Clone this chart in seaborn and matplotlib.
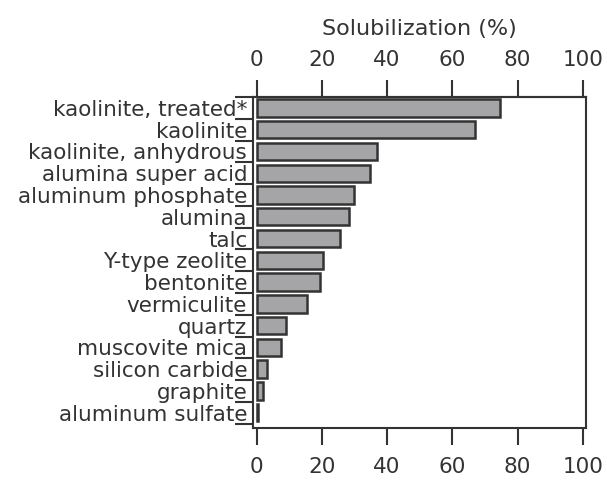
import numpy as np
import seaborn as sns
import matplotlib.pyplot as plt

# solubilization of aluminium-bearing minerals
minerals = [
    "kaolinite, treated*",
    "kaolinite",
    "kaolinite, anhydrous",
    "alumina super acid",
    "aluminum phosphate",
    "alumina",
    "talc",
    "Y-type zeolite",
    "bentonite",
    "vermiculite",
    "quartz",
    "muscovite mica",
    "silicon carbide",
    "graphite",
    "aluminum sulfate",
]
solubilization = [74.5, 67.1, 37.0, 34.8, 29.8, 28.2, 25.6, 20.4, 19.3, 15.3, 9.1, 7.6, 3.3, 1.9, 0.5]
x_ticks = [0, 20, 40, 60, 80, 100]

sns.set_style("ticks")
plt.rcParams["font.family"] = ["DejaVu Sans"]
plt.rcParams["text.color"] = "#333333"
plt.rcParams["xtick.color"] = "#333333"
plt.rcParams["ytick.color"] = "#333333"
plt.rcParams["axes.edgecolor"] = "#333333"

fig, ax = plt.subplots(figsize=(6.07, 4.8), dpi=100)
fig.subplots_adjust(left=252.7 / 607, right=585.7 / 607, top=1 - 97 / 480, bottom=1 - 428 / 480)

sns.barplot(x=solubilization, y=minerals, orient="h", color="#a5a5a8", saturation=1,
            edgecolor="#333333", linewidth=1.8, width=0.8, ax=ax)

for side in ["top", "right", "left", "bottom"]:
    ax.spines[side].set_visible(True)
    ax.spines[side].set_linewidth(1.5)

ax.set_xlim(-1.2, 100.9)
ax.set_ylim(14.7, -0.5)
ax.set_xlabel("")
ax.set_ylabel("")

ax.set_xticks(x_ticks)
ax.tick_params(axis="x", length=12, width=1.5, pad=9, labelsize=15.5,
               labelcolor="#333333")

top = ax.secondary_xaxis("top")
top.set_xticks(x_ticks)
top.tick_params(axis="x", length=12, width=1.5, pad=7.5, labelsize=15.5,
                labelcolor="#333333")
top.spines["top"].set_linewidth(1.5)
top.set_xlabel("Solubilization (%)", fontsize=16, labelpad=11, color="#333333")

# labels centred on bars, tick marks on the boundaries between them
ax.tick_params(axis="y", which="major", length=0, pad=4, labelsize=15.5, labelcolor="#333333")
ax.set_yticks(np.arange(-0.5, len(minerals), 1), minor=True)
ax.tick_params(axis="y", which="minor", length=13, width=1.5)

plt.savefig("out.png", dpi=100)
